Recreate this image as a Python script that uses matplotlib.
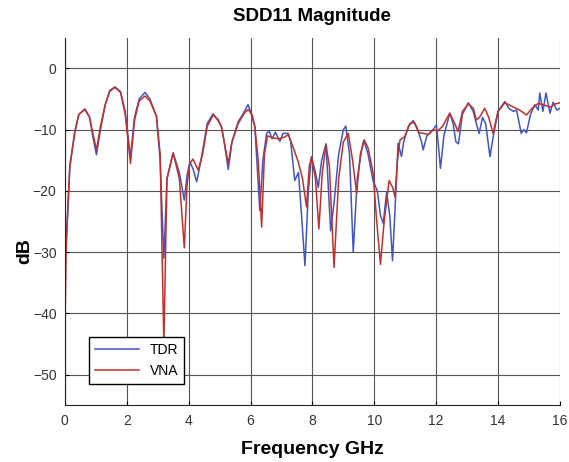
import matplotlib.pyplot as plt

plt.rcParams['font.family'] = ['Liberation Sans', 'DejaVu Sans']

# TDR trace (GHz, dB)
tdr_f = [0.0, 0.03, 0.1, 0.16, 0.32, 0.45, 0.65, 0.8, 0.9, 1.02, 1.15, 1.3, 1.45, 1.62,
         1.8, 1.95, 2.12, 2.25, 2.4, 2.59, 2.75, 2.96, 3.08, 3.2, 3.3, 3.5, 3.7, 3.86,
         3.95, 4.04, 4.15, 4.26, 4.4, 4.6, 4.79, 4.95, 5.06, 5.15, 5.28, 5.4, 5.6, 5.75,
         5.92, 6.0, 6.14, 6.3, 6.4, 6.52, 6.6, 6.7, 6.8, 6.95, 7.05, 7.22, 7.3, 7.43,
         7.55, 7.65, 7.76, 7.87, 7.97, 8.1, 8.19, 8.3, 8.44, 8.59, 8.7, 8.85, 9.0, 9.08,
         9.2, 9.32, 9.45, 9.6, 9.66, 9.8, 9.96, 10.1, 10.2, 10.29, 10.4, 10.5, 10.59,
         10.7, 10.77, 10.88, 10.95, 11.1, 11.26, 11.4, 11.53, 11.58, 11.7, 11.9, 12.01,
         12.14, 12.25, 12.44, 12.55, 12.64, 12.72, 12.85, 13.04, 13.2, 13.3, 13.39, 13.5,
         13.6, 13.74, 13.85, 14.0, 14.22, 14.35, 14.49, 14.6, 14.75, 14.83, 14.92, 15.05,
         15.19, 15.3, 15.35, 15.45, 15.55, 15.68, 15.78, 15.9, 16.0]
tdr_db = [-24, -29, -23, -16, -10.3, -7.5, -6.6, -8, -11, -14.1, -10, -6, -3.6, -3.0,
          -3.8, -7, -14.5, -8, -5, -3.9, -5, -7.8, -15, -31, -18, -13.8, -17, -21.5,
          -17.5, -15.2, -16.5, -18.5, -15, -9, -7.4, -8.5, -9.5, -12, -16.5, -12, -8.7, -7.5,
          -5.9, -7, -9.5, -23.2, -15, -10.6, -10.2, -11.5, -10.4, -11.9, -10.6, -10.6, -12, -18.3,
          -17, -24, -32.2, -20, -14.4, -17, -19.4, -15, -12.3, -26.5, -22, -14, -10, -9.4,
          -14, -30, -18, -13, -11.7, -14, -18.3, -20, -24, -25.3, -20.2, -24, -31.4,
          -20, -12.2, -14.4, -12, -9.5, -8.5, -10, -12, -13.3, -11, -10, -9.2,
          -16.3, -11, -7.3, -9, -12, -12.3, -7.5, -5.6, -7, -9, -10.6, -8,
          -9, -14.4, -11, -7, -5.4, -6.5, -7, -6.8, -10.6, -10, -10.5, -7.5,
          -5.9, -6.8, -4.0, -7, -4, -7.3, -5.5, -6.8, -6.5]

# VNA trace
vna_f = [0.0, 0.04, 0.1, 0.16, 0.32, 0.45, 0.65, 0.8, 0.9, 1.02, 1.15, 1.3, 1.45, 1.62,
         1.8, 1.95, 2.12, 2.25, 2.4, 2.59, 2.75, 2.96, 3.08, 3.2, 3.3, 3.5, 3.7, 3.86,
         3.95, 4.04, 4.14, 4.31, 4.45, 4.6, 4.79, 4.95, 5.06, 5.15, 5.28, 5.4, 5.6, 5.8,
         5.92, 6.05, 6.14, 6.25, 6.36, 6.45, 6.55, 6.7, 6.9, 7.1, 7.22, 7.35, 7.54, 7.68,
         7.81, 7.9, 7.97, 8.1, 8.21, 8.32, 8.44, 8.55, 8.7, 8.85, 9.0, 9.16, 9.3, 9.43,
         9.55, 9.68, 9.8, 9.96, 10.08, 10.2, 10.32, 10.48, 10.6, 10.67, 10.75, 10.83,
         10.99, 11.15, 11.3, 11.45, 11.6, 11.75, 11.9, 12.05, 12.2, 12.44, 12.6, 12.71,
         12.85, 13.04, 13.2, 13.3, 13.4, 13.57, 13.7, 13.84, 14.0, 14.22, 14.5, 14.7,
         14.92, 15.1, 15.3, 15.5, 15.7, 15.85, 16.0]
vna_db = [-43, -30, -22, -16, -10.5, -7.5, -6.7, -8, -10.5, -13.3, -9.5, -6, -3.7, -3.1,
          -3.9, -7.5, -15.5, -8.5, -5.3, -4.5, -5.3, -7.8, -14, -45, -18, -13.8, -18, -29.3,
          -19, -15.5, -14.8, -16.6, -14, -9.5, -7.6, -8.3, -9.5, -12, -15.5, -12, -9, -7.3,
          -6.7, -7.5, -9.5, -15, -25.9, -14, -11, -11.3, -11.5, -11.2, -10.8, -12.5, -15.2, -18,
          -22.6, -16, -14.5, -18, -26.2, -17, -12.5, -16, -32.5, -18, -12, -10.6, -15, -20.4,
          -14, -11.7, -13, -17, -25, -32, -25, -18.3, -19.5, -21, -15, -11.7,
          -11.1, -9, -8.8, -10.5, -10.6, -10.8, -10, -10.2, -9.5, -7.3, -9, -10.3,
          -7, -5.8, -6.5, -8.4, -8, -6.5, -8, -10.6, -7, -5.6, -6.3, -6.8,
          -7.6, -6.5, -5.7, -6, -6.3, -5.8, -5.6]

x_ticks = [0, 2, 4, 6, 8, 10, 12, 14, 16]
y_ticks = [-50, -40, -30, -20, -10, 0]

fig = plt.figure(figsize=(5.69, 4.62), dpi=100)
ax = fig.add_axes([0.114, 0.123, 0.870, 0.795])

ax.plot(tdr_f, tdr_db, color='#4155c4', lw=1.1, label='TDR')
ax.plot(vna_f, vna_db, color='#c2302e', lw=1.1, label='VNA')

ax.set_xlim(0, 16)
ax.set_ylim(-55, 5)
ax.set_xticks(x_ticks)
ax.set_yticks(y_ticks)
ax.grid(True, color='#555555', lw=0.8)
ax.set_axisbelow(True)
for s in ['top', 'right']:
    ax.spines[s].set_visible(False)
ax.spines['left'].set_color('#222222')
ax.spines['bottom'].set_color('#222222')
ax.tick_params(direction='in', length=3, labelsize=10, labelcolor='#333333', pad=6)

ax.set_title('SDD11 Magnitude', fontsize=13.5, fontweight='bold', pad=12)
ax.set_xlabel('Frequency GHz', fontsize=14, fontweight='bold', labelpad=10)
ax.set_ylabel('dB', fontsize=14, fontweight='bold')
ax.yaxis.set_label_coords(-0.063, 0.42)

leg = ax.legend(loc='lower left', bbox_to_anchor=(0.035, 0.04), fontsize=10,
                fancybox=False, framealpha=1, edgecolor='black', handlelength=3.2,
                borderpad=0.4, labelspacing=0.5)
leg.get_frame().set_linewidth(1.0)

plt.savefig('out.png', dpi=100)
